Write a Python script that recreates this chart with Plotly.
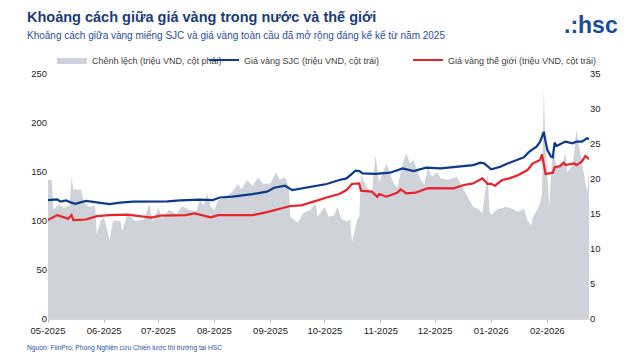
import plotly.graph_objects as go

# ---------------- data ----------------
sjc_dates = ["2025-05-01","2025-05-06","2025-05-08","2025-05-11","2025-05-14","2025-05-16","2025-05-22","2025-05-30",
             "2025-06-04","2025-06-10","2025-06-17","2025-07-06","2025-07-13","2025-07-24","2025-07-31","2025-08-04",
             "2025-08-11","2025-08-22","2025-08-30","2025-09-03","2025-09-09","2025-09-13","2025-09-23","2025-10-02",
             "2025-10-09","2025-10-13","2025-10-18","2025-10-20","2025-10-22","2025-10-29","2025-11-06","2025-11-13",
             "2025-11-19","2025-11-26","2025-12-04","2025-12-11","2025-12-22","2025-12-26","2025-12-28","2026-01-01",
             "2026-01-06","2026-01-09","2026-01-15","2026-01-19","2026-01-22","2026-01-26","2026-01-28","2026-01-30",
             "2026-01-31","2026-02-01","2026-02-03","2026-02-04","2026-02-05","2026-02-06","2026-02-11","2026-02-15",
             "2026-02-17","2026-02-20","2026-02-23","2026-02-24"]
sjc_values = [121.4,122,119.7,121,118.7,117.5,120.5,119,
              117.3,118.7,119.7,120,121,121.8,121.4,124,
              124.8,127.5,130,134,136,131.5,135,137.8,
              141.8,143.5,151.3,151,148.6,148,149.3,153.7,
              151,154.4,153.7,154.8,157,159.5,158.8,152.7,
              155.4,158,162.2,165,170.7,175.8,181,191,
              181,172.4,165.6,165,180,176.5,181,179.3,
              181,181,184.4,183.7]

world_dates = ["2025-05-01","2025-05-06","2025-05-10","2025-05-12","2025-05-14","2025-05-15","2025-05-22","2025-05-28",
               "2025-06-04","2025-06-14","2025-06-27","2025-07-02","2025-07-16","2025-07-21","2025-07-30","2025-08-03",
               "2025-08-11","2025-08-22","2025-08-30","2025-09-05","2025-09-12","2025-09-18","2025-09-22","2025-09-27",
               "2025-10-02","2025-10-09","2025-10-13","2025-10-16","2025-10-20","2025-10-21","2025-10-27","2025-10-30",
               "2025-10-31","2025-11-04","2025-11-10","2025-11-12","2025-11-15","2025-11-20","2025-11-27","2025-12-04",
               "2025-12-11","2025-12-17","2025-12-22","2025-12-27","2025-12-30","2026-01-01","2026-01-03","2026-01-07",
               "2026-01-11","2026-01-16","2026-01-21","2026-01-24","2026-01-28","2026-01-29","2026-01-31","2026-02-04",
               "2026-02-05","2026-02-08","2026-02-10","2026-02-11","2026-02-16","2026-02-17","2026-02-20","2026-02-22",
               "2026-02-24"]
world_values = [101,106,103.7,102,106,101,101.5,105,
                106,106.5,103.4,105.5,106,107.8,103.7,106,
                106,106,109,112,115.3,116,118,121,
                124,127.5,131.6,137.8,138.4,131,130,124.8,
                127.5,124.8,128.9,132.3,128.2,128.9,133.5,133.3,
                133.3,136.7,138.4,143.5,137.8,138,136,141.8,
                143.5,146.9,152,158.9,162.2,168,148,149.3,
                154.8,156,159.5,157,158.8,157,160.5,166.3,
                163]

gap_dates = ["2025-05-01","2025-05-03","2025-05-04","2025-05-07","2025-05-10","2025-05-13","2025-05-14","2025-05-15",
             "2025-05-19","2025-05-21","2025-05-24","2025-05-27","2025-05-28","2025-05-30","2025-06-01","2025-06-04",
             "2025-06-06","2025-06-10","2025-06-11","2025-06-14","2025-06-18","2025-06-23","2025-06-26","2025-06-28",
             "2025-07-01","2025-07-03","2025-07-07","2025-07-11","2025-07-14","2025-07-18","2025-07-22","2025-07-24",
             "2025-07-26","2025-07-28","2025-07-30","2025-08-01","2025-08-03","2025-08-06","2025-08-11","2025-08-14",
             "2025-08-16","2025-08-19","2025-08-22","2025-08-25","2025-08-28","2025-09-01","2025-09-04","2025-09-06",
             "2025-09-09","2025-09-11","2025-09-12","2025-09-16","2025-09-19","2025-09-23","2025-09-26","2025-09-27",
             "2025-10-01","2025-10-03","2025-10-06","2025-10-08","2025-10-10","2025-10-13","2025-10-15","2025-10-16",
             "2025-10-19","2025-10-20","2025-10-21","2025-10-24","2025-10-27","2025-10-29","2025-10-31","2025-11-02",
             "2025-11-04","2025-11-08","2025-11-10","2025-11-13","2025-11-15","2025-11-17","2025-11-19","2025-11-21",
             "2025-11-23","2025-11-25","2025-11-27","2025-11-29","2025-12-02","2025-12-04","2025-12-08","2025-12-13",
             "2025-12-16","2025-12-19","2025-12-22","2025-12-25","2025-12-27","2025-12-30","2025-12-31","2026-01-01",
             "2026-01-04","2026-01-09","2026-01-12","2026-01-16","2026-01-19","2026-01-21","2026-01-23","2026-01-24",
             "2026-01-26","2026-01-28","2026-01-29","2026-01-30","2026-01-31","2026-02-02","2026-02-04","2026-02-06",
             "2026-02-09","2026-02-11","2026-02-12","2026-02-15","2026-02-17","2026-02-19","2026-02-21","2026-02-23",
             "2026-02-24"]
gap_values = [19.9,19.9,15.6,16.4,15.9,16.2,20.3,18.5,
              18.5,16.6,16,16.2,12,14,14.5,11.3,
              14.1,14,12.5,15.1,14,14.2,16.4,14,
              15.9,14.3,15.6,15,16.1,15.6,15.4,17,
              16.2,17.9,16,15.6,17,17.2,18.2,19.3,
              18.5,19.9,19,20.2,19.3,19.4,21,19.9,
              20.3,18.9,14.6,13.7,15.1,15.6,16.5,14.6,
              16,14.6,14.8,16,14.4,13.9,14.2,11,
              14.3,14.5,20.6,18.9,18,23.4,19.5,21,
              22.2,19.4,18.7,22.2,23.7,22.2,22.7,21.2,
              19.9,19.2,21.7,20.3,21,20.1,19.9,20.3,
              18.9,17.5,16,15.7,15.1,20.8,15.3,14.9,
              15.6,16,15.8,15.3,15.8,14.1,13.4,14.5,
              15.6,16.5,18,32.7,24.6,16,24.6,21.8,
              21.8,23.7,21,22,27,24.1,21.3,18,
              21.3]

left_ticks = [0, 50, 100, 150, 200, 250]
right_ticks = [0, 5, 10, 15, 20, 25, 30, 35]

title_text = "Khoảng cách giữa giá vàng trong nước và thế giới"
subtitle_text = "Khoảng cách giữa vàng miếng SJC và giá vàng toàn cầu đã mở rộng đáng kể kể từ năm 2025"
source_text = "Nguồn: FiinPro, Phòng Nghiên cứu Chiến lược thị trường tại HSC"
gap_name = "Chênh lệch (triệu VND, cột phải)"
sjc_name = "Giá vàng SJC (triệu VND, cột trái)"
world_name = "Giá vàng thế giới (triệu VND, cột trái)"

# ---------------- layout constants ----------------
W, H = 640, 363
L, R, T, B = 48, 51, 74, 44
PW, PH = W - L - R, H - T - B
FONT = "Liberation Sans, Arial, sans-serif"

def px(x):
    return (x - L) / PW

def py(y):
    return (H - B - y) / PH

fig = go.Figure()
fig.add_trace(go.Scatter(x=gap_dates, y=gap_values, name=gap_name, mode="lines",
                         line=dict(width=0, color="#cfd3d9"), fill="tozeroy",
                         fillcolor="#cfd3d9", yaxis="y", legend="legend", showlegend=True))
fig.add_trace(go.Scatter(x=sjc_dates, y=sjc_values, name=sjc_name, mode="lines",
                         line=dict(width=2.2, color="#0b3a8a"), yaxis="y2", legend="legend2",
                         showlegend=True))
fig.add_trace(go.Scatter(x=world_dates, y=world_values, name=world_name, mode="lines",
                         line=dict(width=2.2, color="#e8232c"), yaxis="y2", legend="legend3",
                         showlegend=True))

legend_common = dict(orientation="h", xref="container", yref="container", yanchor="middle",
                     xanchor="left", bgcolor="rgba(0,0,0,0)", itemwidth=30,
                     font=dict(family=FONT, size=9, color="#404040"))

fig.update_layout(
    width=W, height=H,
    showlegend=True,
    margin=dict(l=L, r=R, t=T, b=B, autoexpand=False),
    paper_bgcolor="white", plot_bgcolor="white",
    font=dict(family=FONT, size=9.5, color="#222222"),
    legend=dict(x=(52) / W, y=1 - 60 / H, **legend_common),
    legend2=dict(x=(204) / W, y=1 - 60 / H, **legend_common),
    legend3=dict(x=(408) / W, y=1 - 60 / H, **legend_common),
    xaxis=dict(type="date", range=["2025-05-01", "2026-02-24"], tickformat="%m-%Y",
               dtick="M1", tick0="2025-05-01", ticks="outside", ticklen=3,
               tickcolor="#bfbfbf", showgrid=False, zeroline=False,
               showline=True, linecolor="#d9d9d9", linewidth=1,
               tickfont=dict(family=FONT, size=9.5, color="#222222")),
    yaxis=dict(side="right", range=[0, 35], tickvals=right_ticks, showgrid=False,
               zeroline=False, showline=False, ticks="",
               tickfont=dict(family=FONT, size=9.5, color="#222222")),
    yaxis2=dict(side="left", overlaying="y", range=[0, 250], tickvals=left_ticks,
                showgrid=False, zeroline=False, showline=False, ticks="",
                tickfont=dict(family=FONT, size=9.5, color="#222222")),
    annotations=[
        dict(text="<b>" + title_text + "</b>", xref="paper", yref="paper", x=px(25), y=py(17.5),
             xanchor="left", yanchor="middle", showarrow=False,
             font=dict(family=FONT, size=14.5, color="#1a3b78")),
        dict(text=subtitle_text, xref="paper", yref="paper", x=px(25), y=py(35.5),
             xanchor="left", yanchor="middle", showarrow=False,
             font=dict(family=FONT, size=10, color="#1f4f9e")),
        dict(text="<b>.:hsc</b>", xref="paper", yref="paper", x=px(562), y=py(25),
             xanchor="left", yanchor="middle", showarrow=False,
             font=dict(family=FONT, size=23, color="#1b4a9b")),
        dict(text=source_text, xref="paper", yref="paper", x=px(25), y=py(347.5),
             xanchor="left", yanchor="middle", showarrow=False,
             font=dict(family=FONT, size=6.7, color="#1f4f9e")),
    ],
)

fig.write_html("out.html", config={"displayModeBar": False},
               post_script="document.body.style.margin='0px';")
